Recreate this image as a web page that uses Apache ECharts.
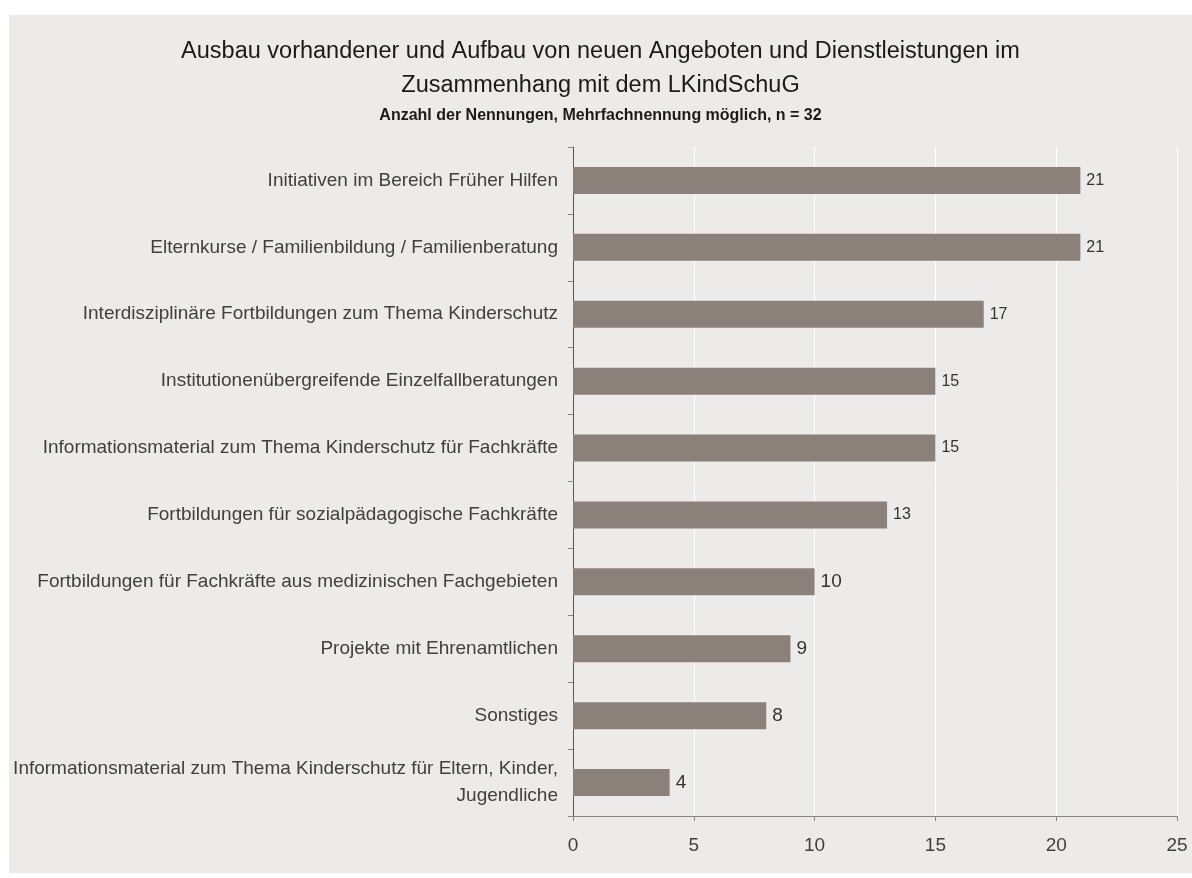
<!DOCTYPE html>
<html>
<head>
<meta charset="utf-8">
<script src="https://cdn.jsdelivr.net/npm/echarts@6/dist/echarts.min.js"></script>
<style>
  html, body { margin: 0; padding: 0; background: #ffffff; }
  #chart { position: absolute; left: 9px; top: 15px; width: 1183px; height: 858px; }
</style>
</head>
<body>
<div id="chart"></div>
<script>
// Horizontal bar chart: offers expanded or created in connection with the LKindSchuG.

const categories = [
  "Initiativen im Bereich Früher Hilfen",
  "Elternkurse / Familienbildung / Familienberatung",
  "Interdisziplinäre Fortbildungen zum Thema Kinderschutz",
  "Institutionenübergreifende Einzelfallberatungen",
  "Informationsmaterial zum Thema Kinderschutz für Fachkräfte",
  "Fortbildungen für sozialpädagogische Fachkräfte",
  "Fortbildungen für Fachkräfte aus medizinischen Fachgebieten",
  "Projekte mit Ehrenamtlichen",
  "Sonstiges",
  "Informationsmaterial zum Thema Kinderschutz für Eltern, Kinder,\nJugendliche",
];
const counts = [21, 21, 17, 15, 15, 13, 10, 9, 8, 4];
const xTicks = [0, 5, 10, 15, 20, 25];

const textColor = "#404040";
const font = "'Liberation Sans', Arial, sans-serif";

const chart = echarts.init(document.getElementById("chart"));

chart.setOption({
  backgroundColor: "#edebe9",
  animation: false,
  textStyle: { fontFamily: font },
  title: [
    {
      text: "Ausbau vorhandener und Aufbau von neuen Angeboten und Dienstleistungen im\nZusammenhang mit dem LKindSchuG",
      left: "center",
      top: 15,
      textStyle: {
        fontFamily: font,
        fontSize: 23.5,
        fontWeight: "normal",
        lineHeight: 34,
        color: "#1a1a1a",
        align: "center",
      },
    },
    {
      text: "Anzahl der Nennungen, Mehrfachnennung möglich, n = 32",
      left: "center",
      top: 88,
      textStyle: {
        fontFamily: font,
        fontSize: 16,
        fontWeight: "bold",
        color: "#1a1a1a",
      },
    },
  ],
  grid: { left: 564, right: 15, top: 132, bottom: 57, containLabel: false },
  xAxis: {
    type: "value",
    min: xTicks[0],
    max: xTicks[xTicks.length - 1],
    interval: 5,
    axisLine: { show: true, lineStyle: { color: "#868686", width: 1 } },
    axisTick: { show: true, length: 5, lineStyle: { color: "#868686" } },
    axisLabel: { fontSize: 19, color: textColor, margin: 20, fontFamily: font },
    splitLine: { show: true, lineStyle: { color: "#ffffff", width: 1 } },
  },
  yAxis: {
    type: "category",
    data: categories,
    inverse: true,
    axisLine: { show: true, lineStyle: { color: "#595959", width: 1 } },
    axisTick: { show: true, length: 5, lineStyle: { color: "#868686" } },
    axisLabel: {
      fontSize: 19,
      color: textColor,
      margin: 15,
      lineHeight: 27,
      align: "right",
      fontFamily: font,
    },
  },
  series: [
    {
      type: "bar",
      data: counts.map((v, i) => ({
        value: v,
        label: { fontSize: i < 6 ? 16 : 19 },
      })),
      barWidth: 27,
      itemStyle: { color: "#8c807b" },
      label: {
        show: true,
        position: "right",
        distance: 6,
        color: "#333333",
        fontFamily: font,
      },
    },
  ],
});
</script>
</body>
</html>
